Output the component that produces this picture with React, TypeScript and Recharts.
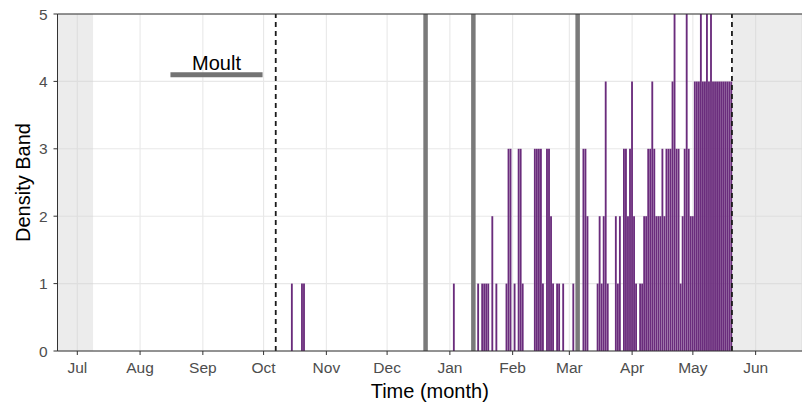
import { Bar, BarChart, CartesianGrid, ReferenceArea, ReferenceLine, XAxis, YAxis } from 'recharts'

// day 0 = 1 Jul
const monthLabels = ['Jul', 'Aug', 'Sep', 'Oct', 'Nov', 'Dec', 'Jan', 'Feb', 'Mar', 'Apr', 'May', 'Jun']
const monthStartDays = [0, 31, 62, 92, 123, 153, 184, 215, 243, 274, 304, 335]
const bandTicks = [0, 1, 2, 3, 4, 5]

const detectionDays = [
  106, 111, 112, 186, 198, 200, 201, 202, 203, 205, 207, 212, 213, 214, 216, 218, 219, 220,
  226, 227, 228, 229, 230, 232, 233, 234, 235, 237, 238, 240, 245, 250, 251, 252, 257, 258,
  259, 260, 261, 262, 266, 267, 268, 270, 271, 272, 273, 274, 275, 276, 278, 279, 280, 281,
  282, 283, 284, 285, 286, 287, 288, 289, 290, 291, 292, 293, 294, 295, 296, 297, 298, 299,
  300, 301, 302, 303, 304, 305, 306, 307, 308, 309, 310, 311, 312, 313, 314, 315, 316, 317,
  318, 319, 320, 321, 322, 323,
]
const densityBands = [
  1, 1, 1, 1, 1, 1, 1, 1, 1, 2, 1, 1, 3, 3, 1, 3, 3, 1,
  3, 3, 3, 3, 1, 3, 3, 2, 1, 1, 1, 1, 1, 3, 3, 2, 1, 2,
  1, 2, 4, 1, 2, 1, 2, 3, 3, 2, 3, 4, 2, 1, 1, 1, 2, 2,
  3, 3, 4, 3, 2, 2, 2, 3, 2, 3, 3, 3, 4, 5, 3, 3, 1, 2,
  3, 5, 3, 2, 2, 4, 4, 4, 5, 4, 4, 5, 4, 5, 4, 4, 4, 4,
  4, 4, 4, 4, 4, 4,
]

const eventDays = [172, 195.6, 247.1]
const dashedDays = [98, 323.3]
const shadedSpans = [[-9.78, 7.8], [323.3, 357.9]]
const moultSpan = [46, 91.5]
const moultLevel = 4.1

const data = detectionDays.map((day, i) => ({ day, band: densityBands[i] }))

const tickStyle = { fontSize: 15.5, fill: '#4d4d4d' }

export default function App() {
  return (
    <div
      style={{
        position: 'absolute',
        left: 0,
        top: 0,
        width: 802,
        height: 403,
        background: '#fff',
        fontFamily: '"Liberation Sans", Arial, sans-serif',
      }}
    >
      <BarChart width={802} height={403} data={data} margin={{ top: 14, right: 0, bottom: 0, left: 0 }}>
        <CartesianGrid stroke="#e8e8e8" strokeWidth={1.1} />
        <XAxis
          type="number"
          dataKey="day"
          domain={[-9.78, 357.9]}
          allowDataOverflow
          ticks={monthStartDays}
          interval={0}
          tickFormatter={(v: number) => monthLabels[monthStartDays.indexOf(v)]}
          tick={tickStyle}
          tickSize={4}
          tickMargin={7}
          height={52}
          stroke="#333"
          label={{ value: 'Time (month)', position: 'insideBottom', offset: 5, fontSize: 20, fill: '#000' }}
        />
        <YAxis
          type="number"
          domain={[0, 5]}
          ticks={bandTicks}
          interval={0}
          tick={tickStyle}
          tickSize={4}
          tickMargin={6}
          width={57.5}
          stroke="#333"
          label={{
            content: (props: any) => {
              const vb = props.viewBox
              const cx = vb.x + 22.5
              const cy = vb.y + vb.height / 2
              return (
                <text
                  x={cx}
                  y={cy}
                  transform={`rotate(-90 ${cx} ${cy})`}
                  textAnchor="middle"
                  dominantBaseline="central"
                  fontSize={20}
                  fill="#000"
                >
                  Density Band
                </text>
              )
            },
          }}
        />
        {shadedSpans.map(([a, b]) => (
          <ReferenceArea key={a} x1={a} x2={b} y1={0} y2={5} fill="#cfcfcf" fillOpacity={0.4} stroke="none" />
        ))}
        {eventDays.map((d) => (
          <ReferenceLine key={d} x={d} stroke="#7a7a7a" strokeWidth={4.5} />
        ))}
        <Bar dataKey="band" fill="#6a2c7c" barSize={1.85} isAnimationActive={false} />
        {dashedDays.map((d) => (
          <ReferenceLine key={d} x={d} stroke="#1a1a1a" strokeWidth={1.8} strokeDasharray="5 4" />
        ))}
        <ReferenceLine
          segment={[
            { x: moultSpan[0], y: moultLevel },
            { x: moultSpan[1], y: moultLevel },
          ]}
          stroke="#737373"
          strokeWidth={5}
          label={{ value: 'Moult', position: 'top', offset: 5, fontSize: 20, fill: '#000' }}
        />
        <ReferenceLine y={5} stroke="#333" strokeWidth={1} />
      </BarChart>
    </div>
  )
}
